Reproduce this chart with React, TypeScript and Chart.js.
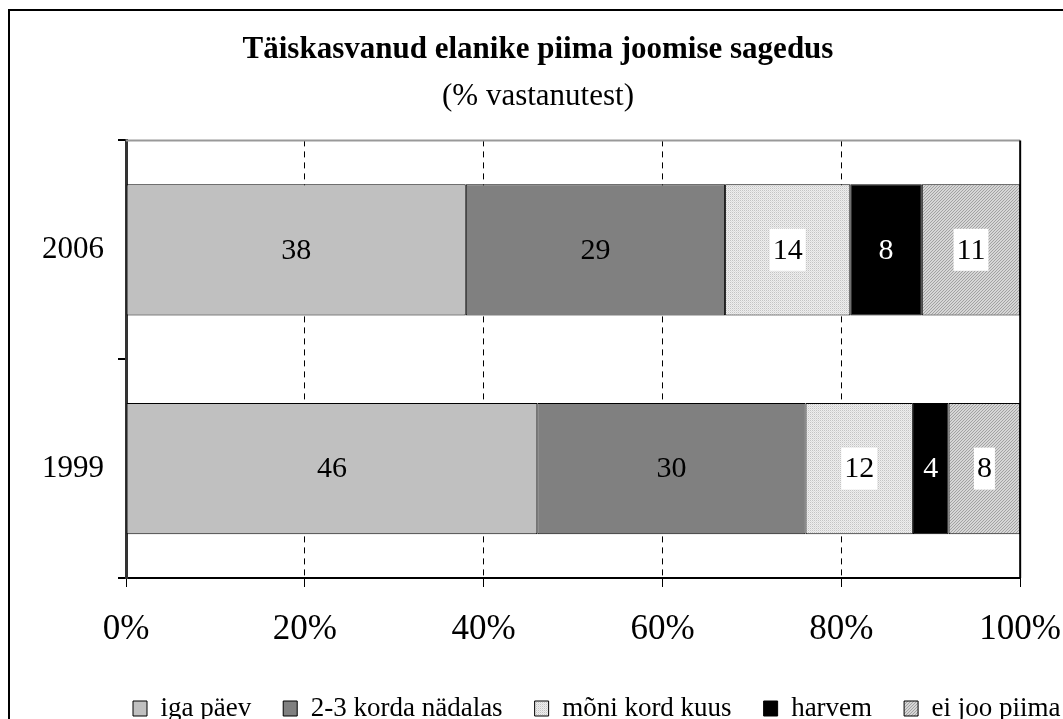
import React, { useEffect, useRef } from 'react';
import { Chart, registerables } from 'chart.js';

Chart.register(...registerables);

const categories = ['2006', '1999'];
const seriesNames = ['iga päev', '2-3 korda nädalas', 'mõni kord kuus', 'harvem', 'ei joo piima'];
const igaPaev = [38, 46];
const korda23 = [29, 30];
const moniKord = [14, 12];
const harvem = [8, 4];
const eiJoo = [11, 8];
const xMin = 0;
const xMax = 100;
const xStep = 20;
const titleText = 'Täiskasvanud elanike piima joomise sagedus';
const subtitleText = '(% vastanutest)';

const FONT = "'Liberation Serif', 'Times New Roman', serif";
const W = 1083;
const H = 732;

function makeDotPattern(): CanvasPattern | string {
  const c = document.createElement('canvas');
  c.width = 2;
  c.height = 2;
  const g = c.getContext('2d');
  if (!g) return '#e4e4e4';
  g.fillStyle = '#eeeeee';
  g.fillRect(0, 0, 2, 2);
  g.fillStyle = '#c4c4c4';
  g.fillRect(0, 0, 1, 1);
  g.fillStyle = '#dddddd';
  g.fillRect(1, 1, 1, 1);
  return g.createPattern(c, 'repeat') || '#e4e4e4';
}

function makeHatchPattern(): CanvasPattern | string {
  const c = document.createElement('canvas');
  c.width = 3;
  c.height = 3;
  const g = c.getContext('2d');
  if (!g) return '#bdbdbd';
  g.fillStyle = '#d6d6d6';
  g.fillRect(0, 0, 3, 3);
  g.fillStyle = '#a2a2a2';
  for (let i = 0; i < 3; i++) {
    g.fillRect((3 - i) % 3, i, 1, 1);
  }
  return g.createPattern(c, 'repeat') || '#bdbdbd';
}

const labelPlugin = {
  id: 'barLabels',
  afterDatasetsDraw(chart: any) {
    const ctx = chart.ctx;
    ctx.save();
    ctx.font = `30px ${FONT}`;
    ctx.textAlign = 'center';
    ctx.textBaseline = 'middle';
    chart.data.datasets.forEach((ds: any, di: number) => {
      const meta = chart.getDatasetMeta(di);
      meta.data.forEach((el: any, i: number) => {
        const v = ds.data[i];
        const p = el.getProps(['x', 'y', 'base'], true);
        const cx = (p.x + p.base) / 2;
        const txt = String(v);
        if (ds.labelBox) {
          const w = ctx.measureText(txt).width + 6;
          ctx.fillStyle = '#ffffff';
          ctx.fillRect(cx - w / 2, p.y - 21, w, 42);
        }
        ctx.fillStyle = ds.labelColor || '#000000';
        ctx.fillText(txt, cx, p.y + 1);
      });
    });
    ctx.restore();
  },
};

const framePlugin = {
  id: 'frame',
  afterLayout(chart: any) {
    const lg = chart.legend;
    if (lg) {
      lg.left = chart.chartArea.left - 25;
      lg.right = chart.width + 200;
    }
  },
  beforeDraw(chart: any) {
    const ctx = chart.ctx;
    ctx.save();
    ctx.fillStyle = '#ffffff';
    ctx.fillRect(0, 0, chart.width, chart.height);
    ctx.strokeStyle = '#000000';
    ctx.lineWidth = 2;
    ctx.strokeRect(9, 10, chart.width + 20, chart.height + 20);
    ctx.restore();
  },
  afterDraw(chart: any) {
    const ctx = chart.ctx;
    const a = chart.chartArea;
    ctx.save();
    ctx.lineWidth = 2;
    ctx.strokeStyle = '#999999';
    ctx.beginPath();
    ctx.moveTo(a.left, a.top);
    ctx.lineTo(a.right, a.top);
    ctx.stroke();
    ctx.strokeStyle = '#000000';
    ctx.lineWidth = 2;
    ctx.beginPath();
    ctx.moveTo(a.right, a.top);
    ctx.lineTo(a.right, a.bottom);
    ctx.stroke();
    ctx.restore();
  },
};

export default function App() {
  const ref = useRef<HTMLCanvasElement | null>(null);

  useEffect(() => {
    const canvas = ref.current;
    if (!canvas) return;
    const dots = makeDotPattern();
    const hatch = makeHatchPattern();
    const common = { borderColor: '#000000', borderWidth: 1, borderSkipped: false };
    const chart = new Chart(canvas, {
      type: 'bar',
      data: {
        labels: categories,
        datasets: [
          { label: seriesNames[0], data: igaPaev, backgroundColor: '#c0c0c0', ...common },
          { label: seriesNames[1], data: korda23, backgroundColor: '#808080', ...common },
          { label: seriesNames[2], data: moniKord, backgroundColor: dots, labelBox: true, ...common },
          { label: seriesNames[3], data: harvem, backgroundColor: '#000000', labelColor: '#ffffff', ...common },
          { label: seriesNames[4], data: eiJoo, backgroundColor: hatch, labelBox: true, ...common },
        ] as any,
      },
      options: {
        indexAxis: 'y',
        responsive: false,
        animation: false,
        devicePixelRatio: 1,
        events: [],
        datasets: { bar: { categoryPercentage: 0.6, barPercentage: 1 } },
        layout: { padding: { left: 19, right: 26, top: 0, bottom: 0 } },
        scales: {
          x: {
            stacked: true,
            min: xMin,
            max: xMax,
            afterFit: (s: any) => { s.height = 85; },
            ticks: {
              stepSize: xStep,
              color: '#000000',
              font: { family: FONT, size: 35 },
              padding: 22,
              callback: (v: any) => `${v}%`,
            },
            grid: {
              color: (c: any) => (c.tick && (c.tick.value === xMin || c.tick.value === xMax) ? 'rgba(0,0,0,0)' : '#000000'),
              lineWidth: 1,
              drawTicks: true,
              tickLength: 9,
              tickColor: '#000000',
              tickBorderDash: [],
            },
            border: { display: true, color: '#000000', width: 2, dash: [6, 5] },
          },
          y: {
            stacked: true,
            offset: true,
            afterFit: (s: any) => { s.width = 107; },
            ticks: {
              color: '#000000',
              font: { family: FONT, size: 31 },
              padding: 14,
            },
            grid: {
              offset: true,
              drawOnChartArea: false,
              drawTicks: true,
              tickLength: 8,
              tickColor: '#000000',
              lineWidth: 2,
            },
            border: { display: true, color: '#333333', width: 3 },
          },
        },
        plugins: {
          tooltip: { enabled: false },
          title: {
            display: true,
            text: titleText,
            color: '#000000',
            font: { family: FONT, size: 31, weight: 'bold' },
            padding: { top: 31, bottom: 9 },
          },
          subtitle: {
            display: true,
            text: subtitleText,
            color: '#000000',
            font: { family: FONT, size: 31, weight: 'normal' },
            padding: { top: 1, bottom: 25 },
          },
          legend: {
            display: true,
            position: 'bottom',
            align: 'start',
            labels: {
              color: '#000000',
              font: { family: FONT, size: 27 },
              boxWidth: 14,
              boxHeight: 15,
              padding: 32,
            },
          },
        },
      } as any,
      plugins: [labelPlugin, framePlugin],
    });
    return () => chart.destroy();
  }, []);

  return (
    <div style={{ position: 'fixed', left: 0, top: 0, width: W, height: H, background: '#fff' }}>
      <canvas ref={ref} width={W} height={H} style={{ display: 'block', width: W, height: H }} />
    </div>
  );
}
